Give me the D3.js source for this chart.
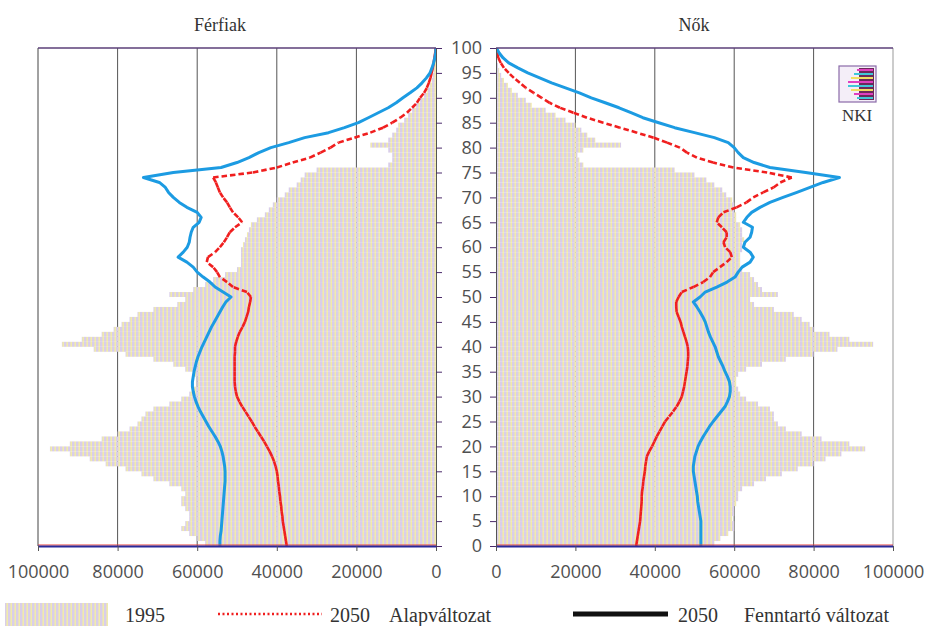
<!DOCTYPE html>
<html>
<head>
<meta charset="utf-8">
<script src="https://cdn.jsdelivr.net/npm/d3@7"></script>
<style>
  body { margin: 0; background: #fff; }
  .num { font-family: "Open Sans", sans-serif; font-size: 18px; fill: #505050; }
  .serif { font-family: "Liberation Serif", serif; fill: #333; }
</style>
</head>
<body>
<div id="chart"></div>
<script>
  // korévek 0..100, értékek ezer főben
  var ages = d3.range(0, 101);

  var men1995 = [58, 60, 62, 64, 63, 62, 62, 63, 64, 64,
    63, 64, 67, 71, 74, 78, 83, 87, 92, 97,
    92, 84, 80, 77, 75, 74, 73, 71, 67, 64,
    62, 61, 60, 60, 61, 63, 66, 71, 78, 86,
    94, 89, 84, 81, 79, 77, 75, 71, 65, 63,
    67, 61, 58, 56, 53, 50, 49, 49, 49, 49,
    48.5, 48, 47.5, 47, 46.5, 45, 43, 42, 41, 40,
    38, 37, 35, 34, 33, 30, 12, 11, 11, 12,
    16.5, 12, 11, 10, 9.5, 8, 7, 6, 5, 4,
    3, 2.2, 1.6, 1.1, 0.8, 0.5, 0.4, 0.3, 0.2, 0.1, 0.1];

  var menAlap2050 = [37.5, 37.7, 37.9, 38.1, 38.3, 38.5, 38.6, 38.8, 38.9, 39.1,
    39.2, 39.4, 39.5, 39.7, 39.8, 40.0, 40.3, 40.7, 41.2, 41.8,
    42.5, 43.2, 44.0, 44.8, 45.6, 46.3, 47.1, 47.9, 48.7, 49.4,
    50.0, 50.3, 50.5, 50.6, 50.6, 50.6, 50.6, 50.6, 50.6, 50.5,
    50.5, 50.2, 49.8, 49.3, 48.6, 48.0, 47.6, 47.2, 47.0, 46.7,
    46.5, 47.5, 51.0, 52.5, 54.3, 55.0, 56.0, 57.6, 57.3, 55.5,
    54.3, 53.3, 52.5, 51.8, 50.5, 48.7, 49.7, 51.0, 51.8, 52.5,
    53.5, 54.3, 54.8, 55.3, 56.0, 46.0, 40.0, 36.0, 31.7, 29.0,
    26.5, 24.5, 20.5, 16.5, 13.3, 11.0, 9.0, 7.3, 6.0, 4.8,
    4.0, 3.0, 2.3, 1.8, 1.4, 1.1, 0.8, 0.6, 0.4, 0.2, 0.1];

  var menFennt2050 = [54.3, 54.3, 54.2, 54.0, 53.9, 53.8, 53.7, 53.6, 53.5, 53.4,
    53.3, 53.2, 53.1, 53.0, 53.0, 53.0, 53.1, 53.3, 53.5, 53.8,
    54.2, 54.8, 55.5, 56.3, 57.1, 57.8, 58.5, 59.2, 59.8, 60.3,
    60.7, 61.0, 61.2, 61.2, 61.0, 60.8, 60.5, 60.2, 59.8, 59.3,
    58.8, 58.2, 57.6, 57.0, 56.4, 55.7, 55.0, 54.3, 53.6, 52.8,
    51.5, 53.5, 55.5, 56.8, 58.5, 60.0, 61.0, 62.6, 64.8, 63.5,
    62.5, 62.0, 61.8, 61.5, 61.0, 59.5, 59.0, 60.0, 62.6, 64.5,
    66.0, 67.2, 68.0, 69.5, 73.5, 66.0, 54.0, 50.0, 47.0, 44.5,
    41.5, 37.0, 33.0, 27.0, 23.0, 19.5, 17.0, 14.5, 12.0, 10.0,
    8.3, 6.5, 4.8, 3.5, 2.4, 1.5, 1.0, 0.6, 0.3, 0.1, 0];

  var women1995 = [55, 56.5, 58.5, 60, 60, 59.5, 60, 60, 60.5, 61,
    61, 62, 65, 68, 72, 76, 80, 83, 87, 93,
    89, 82, 77, 73, 71, 70, 70, 69, 66, 63,
    61.5, 61, 60.5, 60.5, 61, 63, 67, 73, 80, 86,
    95, 89, 84, 80, 79, 77, 75, 70, 65, 64,
    71, 67, 66, 65, 64, 62, 61.5, 61.5, 61.5, 62,
    62, 62.5, 62, 62, 61.5, 60.5, 60.5, 60, 60, 59.5,
    58, 57, 55, 53, 50, 45, 22, 21, 20.5, 22,
    31.5, 25, 23, 21.5, 20, 17.5, 15, 12.5, 9, 7.5,
    5.5, 4, 3, 2, 1.3, 0.8, 0.5, 0.3, 0.2, 0.1, 0.1];

  var womenAlap2050 = [35.3, 35.5, 35.7, 35.9, 36.1, 36.3, 36.4, 36.5, 36.6, 36.7,
    36.7, 36.8, 37.0, 37.1, 37.3, 37.5, 37.6, 37.8, 38.0, 38.6,
    39.3, 39.9, 40.5, 41.2, 41.9, 42.6, 43.6, 44.6, 45.5, 46.2,
    46.8, 47.1, 47.4, 47.6, 47.8, 48.0, 48.2, 48.3, 48.4, 48.4,
    48.3, 48.0, 47.6, 47.2, 46.8, 46.5, 46.0, 45.5, 45.4, 45.4,
    46.0, 46.8, 49.7, 52.2, 53.9, 54.7, 56.4, 58.1, 59.4, 59.0,
    57.7, 57.3, 58.1, 58.1, 56.9, 55.6, 56.0, 57.3, 60.6, 63.1,
    64.8, 67.3, 69.9, 71.6, 74.5, 68.3, 59.8, 54.7, 50.6, 48.1,
    46.3, 43.1, 39.7, 35.5, 31.2, 27.0, 22.9, 19.5, 16.1, 13.5,
    11.5, 9.5, 7.5, 6.0, 4.5, 3.2, 2.0, 1.2, 0.6, 0.3, 0.1];

  var womenFennt2050 = [51.6, 51.6, 51.6, 51.6, 51.6, 51.6, 51.4, 51.2, 51.0, 50.8,
    50.7, 50.5, 50.3, 50.1, 49.9, 49.7, 49.7, 49.9, 50.1, 50.5,
    50.9, 51.5, 52.2, 53.0, 53.8, 54.7, 55.7, 56.7, 57.7, 58.3,
    58.8, 59.0, 59.0, 58.8, 58.3, 57.7, 57.2, 56.6, 56.0, 55.6,
    55.2, 54.6, 54.0, 53.5, 53.1, 52.7, 52.1, 51.4, 50.6, 49.7,
    51.4, 52.7, 55.6, 58.2, 60.2, 61.0, 62.0, 64.0, 64.8, 64.0,
    62.3, 62.7, 64.0, 64.4, 64.6, 62.3, 63.2, 64.4, 66.5, 69.0,
    72.3, 75.8, 79.1, 82.4, 86.5, 78.0, 69.0, 65.0, 62.3, 61.0,
    60.0, 58.5, 55.0, 50.0, 45.0, 41.0, 37.0, 34.0, 31.0, 27.5,
    24.0, 21.0, 17.5, 14.0, 11.0, 8.0, 5.5, 3.2, 1.8, 0.8, 0.1];

  var xTicks = [0, 20, 40, 60, 80, 100];
  var xTickLabels = ["0", "20000", "40000", "60000", "80000", "100000"];
  var yTicks = d3.range(0, 101, 5);

  var width = 932, height = 626;
  var plotTop = 48, plotBottom = 546;

  var svg = d3.select("#chart").append("svg")
      .attr("width", width)
      .attr("height", height);

  //Scales
  var y = d3.scaleLinear().domain([0, 100]).range([plotBottom, plotTop]);
  var xMen = d3.scaleLinear().domain([100, 0]).range([38, 436]);
  var xWomen = d3.scaleLinear().domain([0, 100]).range([496, 893]);

  //Striped fill of the 1995 bars (lavender / pale yellow)
  var defs = svg.append("defs");
  var pat = defs.append("pattern")
      .attr("id", "stripes")
      .attr("patternUnits", "userSpaceOnUse")
      .attr("width", 4)
      .attr("height", 5);
  pat.append("rect").attr("width", 4).attr("height", 5).attr("fill", "#f1ebac");
  pat.append("rect").attr("width", 2.4).attr("height", 5).attr("fill", "#d9cee9");

  defs.append("clipPath").attr("id", "clipMen").append("rect")
      .attr("x", 38).attr("y", plotTop).attr("width", 398).attr("height", plotBottom - plotTop);
  defs.append("clipPath").attr("id", "clipWomen").append("rect")
      .attr("x", 496).attr("y", plotTop).attr("width", 397).attr("height", plotBottom - plotTop);

  function drawPanel(x, bars, alap, fennt, side, clipId) {
    var g = svg.append("g");
    var zero = x(0);

    //gridlines
    g.selectAll(".grid").data([20, 40, 60, 80])
      .enter().append("line")
      .attr("x1", function(d) { return x(d); })
      .attr("x2", function(d) { return x(d); })
      .attr("y1", plotTop).attr("y2", plotBottom)
      .attr("stroke", "#555").attr("stroke-width", 1);

    var plot = g.append("g").attr("clip-path", "url(#" + clipId + ")");

    //1995 bars
    plot.selectAll(".bar").data(ages)
      .enter().append("rect")
      .attr("x", function(a) { return Math.min(x(bars[a]), zero); })
      .attr("width", function(a) { return Math.abs(x(bars[a]) - zero); })
      .attr("y", function(a) { return y(a + 1); })
      .attr("height", function(a) { return y(a) - y(a + 1); })
      .attr("fill", "url(#stripes)");

    //2050 Alapváltozat, dash restarts on every segment
    plot.selectAll(".seg").data(ages.slice(0, 100))
      .enter().append("line")
      .attr("x1", function(a) { return x(alap[a]); })
      .attr("y1", function(a) { return y(a); })
      .attr("x2", function(a) { return x(alap[a + 1]); })
      .attr("y2", function(a) { return y(a + 1); })
      .attr("stroke", "#f01e1e")
      .attr("stroke-width", 2.6)
      .attr("stroke-dasharray", "5.5,3");

    //2050 Fenntartó változat
    var line = d3.line()
        .x(function(a) { return x(fennt[a]); })
        .y(function(a) { return y(a); });

    plot.append("path")
      .datum(ages)
      .attr("d", line)
      .attr("fill", "none")
      .attr("stroke", "#1c9be2")
      .attr("stroke-width", 3)
      .attr("stroke-linejoin", "round");

    //frame
    var outer = x(100);
    var x0 = Math.min(outer, zero), x1 = Math.max(outer, zero);
    g.append("line").attr("x1", outer).attr("x2", outer).attr("y1", plotTop).attr("y2", plotBottom)
      .attr("stroke", side === "left" ? "#444" : "#999").attr("stroke-width", 1);
    g.append("line").attr("x1", x0).attr("x2", x1)
      .attr("y1", plotTop).attr("y2", plotTop)
      .attr("stroke", "#5b3f78").attr("stroke-width", 1.6);
    g.append("line").attr("x1", x0).attr("x2", x1)
      .attr("y1", plotBottom - 1).attr("y2", plotBottom - 1)
      .attr("stroke", "#e8403a").attr("stroke-width", 1);
    g.append("line").attr("x1", x0).attr("x2", x1)
      .attr("y1", plotBottom + 0.5).attr("y2", plotBottom + 0.5)
      .attr("stroke", "#2a2a9a").attr("stroke-width", 2);

    //x axis
    var xAxis = d3.axisBottom(x)
        .tickValues(xTicks)
        .tickSize(5)
        .tickPadding(14)
        .tickFormat(function(d, i) { return xTickLabels[i]; });

    var xg = g.append("g")
      .attr("transform", "translate(0," + plotBottom + ")")
      .call(xAxis);
    xg.select(".domain").remove();
    xg.selectAll(".tick line").attr("stroke", "#555");
    xg.selectAll(".tick text").attr("class", "num").attr("font-family", null).attr("font-size", null);
  }

  drawPanel(xMen, men1995, menAlap2050, menFennt2050, "left", "clipMen");
  drawPanel(xWomen, women1995, womenAlap2050, womenFennt2050, "right", "clipWomen");

  //age axis between the two panels
  var yRight = svg.append("g")
    .attr("transform", "translate(436,0)")
    .call(d3.axisRight(y).tickValues(yTicks).tickSize(6).tickFormat(""));
  yRight.select(".domain").attr("stroke", "#555");
  yRight.selectAll(".tick line").attr("stroke", "#4a2a6a");

  var yLeft = svg.append("g")
    .attr("transform", "translate(496,0)")
    .call(d3.axisLeft(y).tickValues(yTicks).tickSize(6).tickPadding(8));
  yLeft.select(".domain").attr("stroke", "#555");
  yLeft.selectAll(".tick line").attr("stroke", "#4a2a6a");
  yLeft.selectAll(".tick text").attr("class", "num").attr("font-family", null).attr("font-size", null);

  //panel titles
  svg.append("text").attr("class", "serif").attr("x", 220).attr("y", 31)
    .attr("text-anchor", "middle").attr("font-size", 18).text("Férfiak");
  svg.append("text").attr("class", "serif").attr("x", 694).attr("y", 31)
    .attr("text-anchor", "middle").attr("font-size", 18).text("Nők");

  //NKI logo
  var logo = svg.append("g").attr("transform", "translate(839,66)");
  logo.append("rect").attr("width", 37).attr("height", 36)
    .attr("fill", "#f4eef8").attr("stroke", "#8a6aa8").attr("stroke-width", 1.2);
  logo.append("rect").attr("x", 20).attr("y", 2).attr("width", 15).attr("height", 32).attr("fill", "#6a2a5a");
  var logoRows = d3.range(0, 8);
  logo.selectAll(".lr").data(logoRows).enter().append("rect")
    .attr("x", function(d) { return 18 - Math.min(d, 7 - d) * 3; })
    .attr("y", function(d) { return 3 + d * 4; })
    .attr("width", function(d) { return 16 + Math.min(d, 7 - d) * 3; })
    .attr("height", 2)
    .attr("fill", function(d) { return ["#e040c0", "#40c8d8", "#f0e060"][d % 3]; });
  svg.append("text").attr("class", "serif").attr("x", 857).attr("y", 121)
    .attr("text-anchor", "middle").attr("font-size", 17).attr("fill", "#666").text("NKI");

  //legend
  var legend = svg.append("g");
  legend.append("rect").attr("x", 5).attr("y", 603).attr("width", 103).attr("height", 23)
    .attr("fill", "url(#stripes)");
  legend.append("text").attr("class", "serif").attr("x", 125).attr("y", 622)
    .attr("font-size", 20).text("1995");
  legend.append("line").attr("x1", 218).attr("x2", 322).attr("y1", 614).attr("y2", 614)
    .attr("stroke", "#f01e1e").attr("stroke-width", 2.5).attr("stroke-dasharray", "2,2.5");
  legend.append("text").attr("class", "serif").attr("x", 330).attr("y", 622)
    .attr("font-size", 20).text("2050");
  legend.append("text").attr("class", "serif").attr("x", 389).attr("y", 622)
    .attr("font-size", 20).text("Alapváltozat");
  legend.append("line").attr("x1", 573).attr("x2", 668).attr("y1", 614).attr("y2", 614)
    .attr("stroke", "#111").attr("stroke-width", 5);
  legend.append("text").attr("class", "serif").attr("x", 678).attr("y", 622)
    .attr("font-size", 20).text("2050");
  legend.append("text").attr("class", "serif").attr("x", 744).attr("y", 622)
    .attr("font-size", 20).text("Fenntartó változat");
</script>
</body>
</html>
